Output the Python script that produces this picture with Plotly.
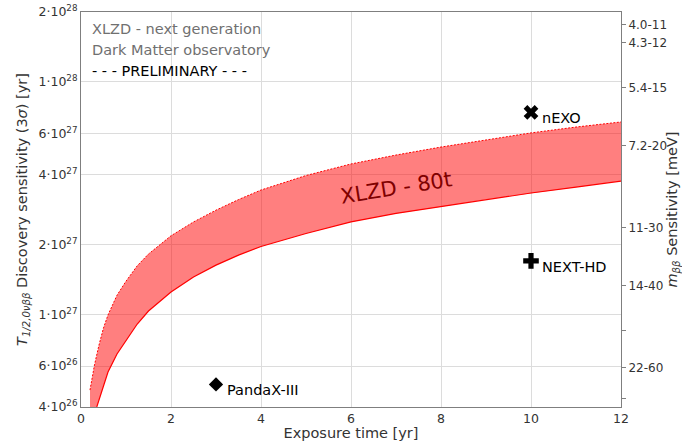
import plotly.graph_objects as go
import math

# XLZD 80 t discovery-sensitivity band (3 sigma), half-life in years vs exposure time
upper_x = [0.2, 0.3, 0.4, 0.5, 0.6, 0.8, 1.0, 1.25, 1.5, 2.0, 2.5, 3.0, 3.5, 4.0,
           5.0, 6.0, 7.0, 8.0, 9.0, 10.0, 11.0, 12.0]
upper_t = [4.73e26, 6.07e26, 7.39e26, 8.75e26, 9.95e26, 1.21e27, 1.39e27, 1.62e27,
           1.82e27, 2.18e27, 2.50e27, 2.81e27, 3.12e27, 3.43e27, 3.96e27, 4.44e27,
           4.85e27, 5.25e27, 5.63e27, 6.04e27, 6.40e27, 6.73e27]

lower_x = [0.35, 0.4, 0.5, 0.6, 0.8, 1.0, 1.25, 1.5, 2.0, 2.5, 3.0, 3.5, 4.0,
           5.0, 6.0, 7.0, 8.0, 9.0, 10.0, 11.0, 12.0]
lower_t = [4.00e26, 4.29e26, 4.98e26, 5.66e26, 6.76e26, 7.76e26, 9.10e26, 1.035e27,
           1.25e27, 1.45e27, 1.63e27, 1.80e27, 1.96e27, 2.23e27, 2.50e27, 2.72e27,
           2.91e27, 3.12e27, 3.33e27, 3.53e27, 3.75e27]

# Other experiments
exp_names = ["nEXO", "NEXT-HD", "PandaX-III"]
exp_time = [10, 10, 3]
exp_t = [7.4e27, 1.70e27, 5.0e26]
exp_symbols = ["x", "cross", "diamond"]
exp_sizes = [13, 13, 11]

# Left axis ticks
y_ticks = [4e26, 6e26, 1e27, 2e27, 4e27, 6e27, 1e28, 2e28]
y_labels = ["4·10<sup>26</sup>", "6·10<sup>26</sup>", "1·10<sup>27</sup>",
            "2·10<sup>27</sup>", "4·10<sup>27</sup>", "6·10<sup>27</sup>",
            "1·10<sup>28</sup>", "2·10<sup>28</sup>"]

# Right axis: m_bb sensitivity range, placed by its upper NME value (meV)
mbb_upper = [11, 12, 15, 20, 30, 40, 50, 60, 70]
mbb_labels = ["4.0-11", "4.3-12", "5.4-15", "7.2-20", "11-30", "14-40", "", "22-60", ""]
t_at_11 = 1.76e28  # half-life corresponding to m_bb upper value of 11 meV
mbb_t = [t_at_11 * (11 / m) ** 2 for m in mbb_upper]

x_ticks = [0, 2, 4, 6, 8, 10, 12]

y_lo, y_hi = 4e26, 2e28
FONT = "DejaVu Sans"
GRID = "#dcdcdc"
AXIS = "#7f7f7f"
TXT = "#333333"

fig = go.Figure()

# filled band (closed down to the lower axis limit on the left)
poly_x = upper_x + lower_x[::-1] + [upper_x[0]]
poly_y = upper_t + lower_t[::-1] + [y_lo]
fig.add_trace(go.Scatter(x=poly_x, y=poly_y, mode="lines", fill="toself",
                         fillcolor="rgba(255,0,0,0.5)", line=dict(width=0),
                         hoverinfo="skip", showlegend=False))
fig.add_trace(go.Scatter(x=upper_x, y=upper_t, mode="lines",
                         line=dict(color="red", width=1, dash="2px,1.5px"),
                         showlegend=False))
fig.add_trace(go.Scatter(x=lower_x, y=lower_t, mode="lines",
                         line=dict(color="red", width=1.2), showlegend=False))

for name, xx, tt, sym, sz in zip(exp_names, exp_time, exp_t, exp_symbols, exp_sizes):
    fig.add_trace(go.Scatter(x=[xx], y=[tt], mode="markers",
                             marker=dict(symbol=sym, size=sz, color="black",
                                         line=dict(width=0)),
                             showlegend=False))
    fig.add_annotation(x=xx, y=math.log10(tt), text=name, showarrow=False,
                       xanchor="left", yanchor="middle", xshift=9, yshift=-6,
                       font=dict(family=FONT, size=14.5, color="black"))

# invisible trace to carry the right axis
fig.add_trace(go.Scatter(x=[None], y=[None], yaxis="y2", showlegend=False))

fig.add_annotation(x=7.0, y=math.log10(3.5e27), text="XLZD - 80t", showarrow=False,
                   textangle=-9, font=dict(family=FONT, size=21, color="#800000"))

for i, (txt, col) in enumerate([("XLZD - next generation", "#707070"),
                                 ("Dark Matter observatory", "#707070"),
                                 ("- - - PRELIMINARY - - -", "black")]):
    fig.add_annotation(xref="paper", yref="paper", x=0.0167, y=0.957 - i * 0.0535,
                       text=txt, showarrow=False, xanchor="left", yanchor="middle",
                       font=dict(family=FONT, size=14.5, color=col))

log_range = [math.log10(y_lo), math.log10(y_hi)]

fig.update_layout(
    width=682, height=441,
    margin=dict(l=81, r=61, t=12, b=34),
    plot_bgcolor="white", paper_bgcolor="white",
    font=dict(family=FONT, size=12, color=TXT),
    xaxis=dict(range=[0, 12], tickvals=x_ticks, showgrid=True, gridcolor=GRID,
               gridwidth=1, zeroline=False, showline=True, linecolor=AXIS,
               linewidth=1, mirror=True, ticks="", automargin=False,
               tickfont=dict(size=12.5, color=TXT),
               title=dict(text="Exposure time [yr]", font=dict(size=14.5, color=TXT),
                          standoff=1)),
    yaxis=dict(type="log", range=log_range, tickvals=y_ticks, ticktext=y_labels,
               showgrid=True, gridcolor=GRID, gridwidth=1, zeroline=False,
               showline=True, linecolor=AXIS, linewidth=1, mirror=True, ticks="",
               automargin=False, tickfont=dict(size=12.5, color=TXT),
               title=dict(text="<i>T</i><sub><i>1/2,0νββ</i></sub> Discovery sensitivity (3<i>σ</i>) [yr]",
                          font=dict(size=14.5, color=TXT), standoff=7)),
    yaxis2=dict(type="log", range=log_range, overlaying="y", side="right",
                tickvals=mbb_t, ticktext=mbb_labels, showgrid=False, zeroline=False,
                ticks="outside", ticklen=4, tickcolor=AXIS, showline=True,
                linecolor=AXIS, linewidth=1, automargin=False,
                tickfont=dict(size=12, color=TXT),
                title=dict(text="<i>m</i><sub><i>ββ</i></sub> Sensitivity [meV]",
                           font=dict(size=14.5, color=TXT), standoff=7)),
)

fig.write_html("out.html")
